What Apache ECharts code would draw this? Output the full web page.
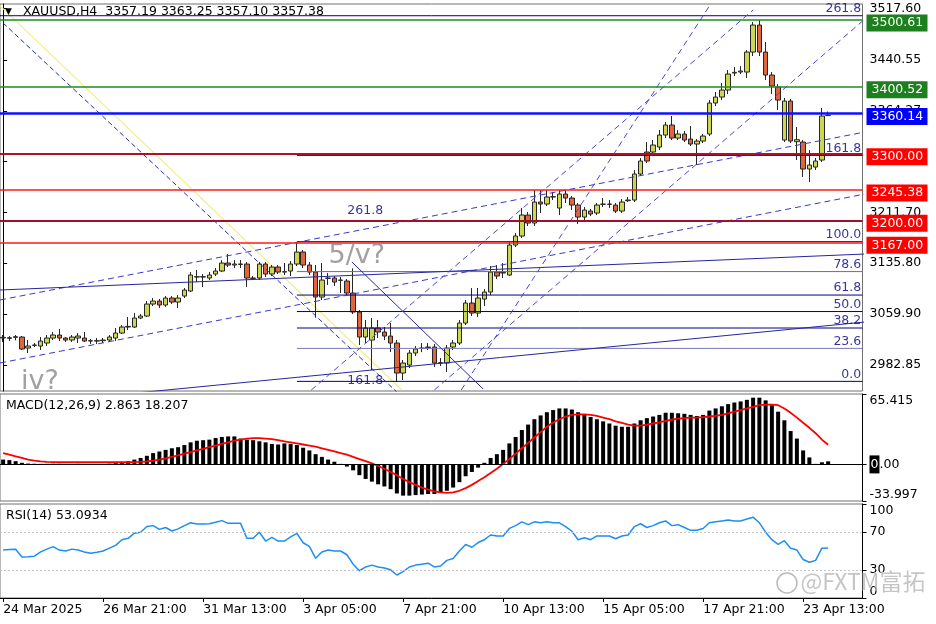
<!DOCTYPE html>
<html><head><meta charset="utf-8">
<script src="https://cdn.jsdelivr.net/npm/echarts@6/dist/echarts.min.js"></script>
<style>html,body{margin:0;padding:0;background:#fff}#c{width:936px;height:624px}</style>
</head><body><div id="c"></div>
<script>
// ---------- data ----------
const tickLabels = ['24 Mar 2025','26 Mar 21:00','31 Mar 13:00','3 Apr 05:00','7 Apr 21:00','10 Apr 13:00','15 Apr 05:00','17 Apr 21:00','23 Apr 13:00'];
const barsPerTick = 16;
const slotCount = 138;

const opens = [3023.5,3023,3024.5,3025,3008.5,3012.5,3011.5,3016,3023.5,3028,3023.5,3020.5,3023.5,3023.5,3019,3019.5,3019.5,3020.5,3023.5,3031,
3040,3040,3053.5,3056.5,3074.5,3079,3073,3083.5,3077.5,3086.5,3094,3115,3115.5,3113.5,3119.5,3124,3136,3133,3134.5,3134.5,
3113.5,3113.5,3134.5,3119.5,3130,3122.5,3124,3134.5,3152.5,3133,3122.5,3085,3113,3113.5,3110.5,3109,3091,3062.5,3025,3020.5,
3038.5,3032.5,3026.5,3016,2971,2983,3001,3008,3009,3010,2986,2986,3010,3016,3046,3076,3061,3082,3092.5,3122.5,
3121,3118,3163,3176.5,3208,3196,3227.5,3224.5,3235,3218.5,3239.5,3233.5,3223,3205,3214,3211,3224,3224.5,3223,3214,
3229.5,3230.5,3269.5,3302.5,3302.5,3310,3328,3343,3323.5,3329.5,3322,3314.5,3319,3329.5,3376,3385,3395.5,3421,3422.5,3422.5,
3452.5,3493,3452.5,3418,3400,3320.5,3379,3318,3317.5,3277,3280,3290.5,3357.19];
const closes = [3024.5,3024,3025.5,3007,3011.5,3013,3019,3023.5,3028,3023.5,3020.5,3025,3026.5,3019,3019.5,3019,3020.5,3025,3031,3040,
3041,3053.5,3056.5,3074.5,3079,3073,3083.5,3077.5,3083.5,3095.5,3118,3115.5,3115,3118,3124,3136,3133,3134.5,3134,3113.5,
3113,3134.5,3119.5,3130,3122.5,3123,3134.5,3152.5,3133,3122.5,3085,3110.5,3113.5,3107.5,3110,3091,3062.5,3025,3038.5,3038.5,
3032.5,3026.5,3016,2971,2986,3001,3007,3008.5,3010,2986,2986.5,3008.5,3016,3046,3076,3061,3083.5,3092.5,3122.5,3116.5,
3122,3163,3176.5,3208,3196,3227.5,3224.5,3235,3235.5,3239.5,3233.5,3223,3205,3215.5,3209.5,3223,3224.5,3224,3214,3227.5,
3230.5,3269.5,3289,3289,3313,3328,3343,3323.5,3329.5,3320.5,3314.5,3319,3326.5,3376,3385,3395.5,3419.5,3422,3424,3452.5,
3493,3452.5,3418,3401.5,3380.5,3379,3319,3321,3277,3283,3289,3356.5,3357.38];
const lows = [3017.5,3019,3020,3005.5,3001,3010,3005.5,3011.5,3020.5,3019,3017.5,3017.5,3016,3017.5,3014.5,3014.5,3016,3017.5,3019,3029.5,
3035.5,3038.5,3052,3055,3071.5,3068.5,3070,3074.5,3068.5,3083.5,3092.5,3107.5,3100,3110.5,3116.5,3122.5,3130,3128.5,3128.5,3100,
3110.5,3110.5,3115,3116.5,3119.5,3118,3116.5,3131.5,3128.5,3118,3054,3080.5,3103,3101.5,3091,3086.5,3059.5,3013,3016,2975.5,
3023.5,3020.5,3002.5,2957.5,2960.5,2978.5,2996.5,3002.5,3005.5,2980,2981.5,2972.5,3005.5,3013,3043,3056.5,3055,3071.5,3088,3112,
3113.5,3116.5,3160,3173.5,3191.5,3191.5,3211,3221.5,3230.5,3208,3226,3215.5,3194.5,3200.5,3206.5,3208,3220,3218.5,3211,3211,
3227.5,3227.5,3266.5,3286,3298,3305.5,3323.5,3320.5,3320.5,3317.5,3311.5,3283,3316,3326.5,3371.5,3380.5,3389.5,3416.5,3419.5,3413.5,
3446.5,3446.5,3410.5,3389.5,3365.5,3317.5,3316,3290.5,3265,3257.5,3275.5,3287.5,3357.10];
const highs = [3028,3026.5,3028,3026.5,3020.5,3016,3025,3028,3032.5,3037,3025,3028,3031,3032.5,3022,3023.5,3023.5,3028,3038.5,3043,
3055,3061,3059.5,3079,3083.5,3082,3086.5,3086.5,3088,3098.5,3122.5,3125.5,3119.5,3122.5,3128.5,3140.5,3149.5,3140.5,3140.5,3137.5,
3116.5,3137.5,3137.5,3133,3133,3136,3139,3167.5,3155.5,3137.5,3133,3136,3121,3116.5,3115,3112,3128,3065.5,3050.5,3053.5,
3050.5,3040,3046,3020.5,2990.5,3005.5,3011.5,3016,3016,3014.5,2993.5,3013,3020.5,3050.5,3080.5,3098.5,3098.5,3097,3131.5,3133,
3136,3167.5,3181,3218.5,3212.5,3245.5,3245.5,3245.5,3242.5,3245.5,3245.5,3236.5,3226,3220,3217,3226,3233.5,3230.5,3226,3232,
3235,3275.5,3293.5,3317.5,3320.5,3335.5,3347.5,3356.5,3335.5,3334,3341.5,3322,3329.5,3380.5,3392.5,3406,3425.5,3430,3431.5,3455.5,
3497.5,3500.5,3467.5,3422.5,3404.5,3383.5,3382,3340,3320.5,3305.5,3293.5,3368.5,3363.25];

const macdMain = [4.5,4,3,1.5,0.8,0.6,0.5,0.5,0.6,0.5,0.4,0.4,0.5,0.4,0.3,0.3,0.4,0.7,1.2,2,
3,4.5,6,8,10.5,12,13.5,15,16,18,20.5,22,22.5,23,24.5,25.5,26,26,24,23,
22.5,21.5,20.5,19,18.5,19.5,19,18,15.5,13,9.5,7,4.5,2.5,0.5,-2,-5.5,-10,-13.5,-16,
-18.5,-20.5,-23,-27,-29,-29,-28.5,-28,-27.5,-27.5,-26.5,-24.5,-21.5,-16.5,-11,-7,-3,1.5,6,9.5,
13.5,19.5,25.5,32,37,42,45.5,48.5,50.5,52,52,51,48.5,46.5,44,42,40,38,36,35,
35,38,41,43,44.5,46,48,48,47.5,47,46,45,46,50,52,54,56,57.5,58.5,60,
62,62,59.5,55,49,41,31,24,13,6.5,0.5,2,2.863];
const macdSignal = [10.5,9,7.5,6,4.5,3.5,2.8,2.3,2.1,2,2,2,2,2,2,2,2,2,2,2,
2,2.1,2.3,2.7,3.5,4.5,5.5,7,8.5,10,11.5,13,14.5,16,17.5,19,20.5,22,23,24,
24.5,24.5,24,23.5,22.5,21.5,20.5,19.5,18.5,17.5,16.5,15,13.5,12,10.5,9,7,5,3,1,
-1.5,-4,-7,-10,-13.5,-16.5,-19,-21.5,-23.5,-25,-26,-26.5,-26,-24.5,-22,-19,-15.5,-12,-8,-4,
0.5,5,10,15,20,25,30,35,39,42,44.5,46,46.5,46.5,46,45,43.5,42,40,38.5,
37,36,36,37,38,39,40.5,41.5,42.5,43,43.5,43.5,44,44.5,45,46,47.5,49,50.5,52,
53.5,55,55.5,55.5,55,52,48,43.5,38.7,34,29,23,18.207];
const rsiValues = [51,51.5,51.8,43.6,44,44.5,49,52,54.6,51,50,52,51,49,47.5,48.6,50,53,56,62,
63.5,69,70,76,77,73,75,71.3,73.5,77,80,78.7,78.7,79,80.5,82.3,79.4,79.4,79.4,63.5,
63.5,70,60.6,64.5,60.6,60.6,65,68.8,58.8,55,42.2,49,51,50,50,46,36,29,33,35,
33,32,30,24.5,28,33,35,36,37,33,34,40,42,50,57,54,59,62,67,66,
66,74,77,81,78,81,80,81,80,80,76,71,62,64,62,66,66,66,63,66,
67,76,79,75,77,80,82,77,78,75,72,72,74,80,81,82,83,82,82,84,
86,80,70,62,57,61,53,51,41,38,40,53,53.0934];

const priceTicks = [2982.85, 3059.90, 3135.80, 3211.70, 3287.98, 3364.27, 3440.55, 3517.60];
const macdTicks = [-33.997, 0, 65.415];
const rsiTicks = [0, 30, 70, 100];

const levelPrices = [3500.61, 3400.52, 3360.14, 3300.00, 3245.38, 3200.00, 3167.00];
const fibRatios = [0, 23.6, 38.2, 50, 61.8, 78.6, 100, 161.8, 261.8];
const fibLow = 2958.5, fibHigh = 3168.0, fibStartBar = 47;
const fibBLabels = [['261.8', 3205], ['161.8', 2950]];

// trend-line anchors: [barIndex, price]
const chanUpper = [[-0.5, 3080.55], [137.9, 3332.55]];
const chanLower = [[-0.5, 2986.05], [137.9, 3239.55]];
const flatLine = [[-0.5, 3095.55], [137.9, 3149.55]];
const lowLine = [[15.5, 2935.8], [137.9, 3047.55]];
const steepA = [[49.3, 2945.55], [120, 3515.55]];
const steepB = [[69, 2945.55], [137.9, 3502.05]];
const steepC = [[73.3, 2945.55], [113.1, 3523.05]];
const yellowLine = [[-0.8, 3524.55], [63.8, 2945.55]];
const descDash = [[0, 3496.05], [63.0, 2942.55]];
const descSolid = [[55.8, 3137.55], [76.8, 2947.05]];
const annotations = [['5/v?', 56.6, 3146.5], ['iv?', 5.9, 2958]];

// ---------- styles ----------
const FONT = 'DejaVu Sans';
const FS = 12.5;
const bull = '#cbd750', bear = '#e2643a';
const levelLineColors = ['#1e8c1e', '#1e8c1e', '#1010ff', '#b0102a', '#ff1a1a', '#a0102a', '#ff1a1a'];
const levelBoxColors  = ['#1e7f1e', '#1e7f1e', '#0000ff', '#ff0000', '#ff0000', '#ff0000', '#ff0000'];
const levelWidths = [1.5, 1.5, 2.5, 2, 1.5, 2, 1.5];
const fibColors = ['#000080','#7a7ab8','#000080','#000080','#000080','#6a6ab0','#000080','#000080','#000080'];

const slots = Array.from({length: slotCount}, (_, i) => i);
const fibPrice = r => fibLow + (fibHigh - fibLow) * r / 100;

function trend(data, color, type, width, z) {
  return {type: 'line', xAxisIndex: 3, yAxisIndex: 0, data: data, symbol: 'none', silent: true,
    clip: true, z: z || 3, animation: false,
    lineStyle: {color: color, width: width || 1, type: type}};
}

const series = [];
series.push({
  type: 'candlestick', xAxisIndex: 0, yAxisIndex: 0, barWidth: 5, z: 2,
  data: opens.map((o, i) => [o, closes[i], lows[i], highs[i]]),
  itemStyle: {color: bull, color0: bear, borderColor: '#262626', borderColor0: '#262626', borderWidth: 1},
  markLine: {
    symbol: 'none', silent: true, animation: false,
    data: levelPrices.map((p, k) => ({
      yAxis: p,
      lineStyle: {color: levelLineColors[k], width: levelWidths[k], type: 'solid'},
      label: {show: true, position: 'end', distance: 4, offset: [0, 3], formatter: p.toFixed(2), color: '#fff',
        backgroundColor: levelBoxColors[k], padding: [3, 5, 1, 5], width: 51,
        fontFamily: FONT, fontSize: FS}
    }))
  }
});
// fib A levels
fibRatios.forEach((r, k) => {
  const start = r === 261.8 ? -0.5 : fibStartBar;
  series.push(trend([[start, fibPrice(r)], [137.5, fibPrice(r)]], fibColors[k], 'solid', 1, 3));
});
series.push({
  type: 'scatter', xAxisIndex: 3, yAxisIndex: 0, symbolSize: 0, silent: true, z: 6, animation: false,
  data: fibRatios.map(r => [137.3, fibPrice(r) + 0.9, r.toFixed(1)]),
  label: {show: true, position: [0, 0], align: 'right', verticalAlign: 'bottom', color: '#000080',
    fontFamily: FONT, fontSize: FS, formatter: p => p.data[2]}
});
series.push({
  type: 'scatter', xAxisIndex: 3, yAxisIndex: 0, symbolSize: 0, silent: true, z: 6, animation: false,
  data: fibBLabels.map(d => [60.8, d[1], d[0]]),
  label: {show: true, position: [0, 0], align: 'right', verticalAlign: 'bottom', color: '#000080',
    fontFamily: FONT, fontSize: FS, formatter: p => p.data[2]}
});
// trend lines
series.push(trend(yellowLine, '#f3ee8a', 'solid', 1.2, 1));
series.push(trend(descDash, '#2a2aa0', [5, 3], 1, 3));
series.push(trend(descSolid, '#2a2aa0', 'solid', 1, 3));
series.push(trend(chanUpper, '#3a3ac8', [6, 4], 1, 3));
series.push(trend(chanLower, '#3a3ac8', [6, 4], 1, 3));
series.push(trend(flatLine, '#2525a0', 'solid', 1, 3));
series.push(trend(lowLine, '#2525a0', 'solid', 1, 3));
series.push(trend(steepA, '#4a4ad0', [6, 4], 1, 3));
series.push(trend(steepB, '#4a4ad0', [6, 4], 1, 3));
series.push(trend(steepC, '#4a4ad0', [6, 4], 1, 3));
// annotations
series.push({
  type: 'scatter', xAxisIndex: 3, yAxisIndex: 0, symbolSize: 0, silent: true, z: 7, animation: false,
  data: annotations.map(a => [a[1], a[2], a[0]]),
  label: {show: true, position: 'inside', color: '#8a8a8a', fontFamily: FONT, fontSize: 27,
    formatter: p => p.data[2]}
});
// MACD
series.push({
  type: 'bar', xAxisIndex: 1, yAxisIndex: 1, data: macdMain, barWidth: 4, animation: false,
  itemStyle: {color: '#000'},
  markLine: {symbol: 'none', silent: true, animation: false, label: {show: false},
    data: [{yAxis: 0}], lineStyle: {color: '#000', width: 1, type: 'solid'}}
});
series.push({
  type: 'line', xAxisIndex: 1, yAxisIndex: 1, data: macdSignal, symbol: 'none', animation: false,
  lineStyle: {color: '#ff0000', width: 1.8}, z: 4
});
// RSI
series.push({
  type: 'line', xAxisIndex: 2, yAxisIndex: 2, data: rsiValues, symbol: 'none', animation: false,
  lineStyle: {color: '#1e8ff0', width: 1.5},
  markLine: {symbol: 'none', silent: true, animation: false, label: {show: false},
    data: [{yAxis: 70}, {yAxis: 30}], lineStyle: {color: '#c4c4c4', width: 1, type: [2, 2]}}
});

const gridBase = {left: 0, width: 862.5, show: true, borderColor: '#707070', borderWidth: 1, backgroundColor: '#fff'};
const hiddenCat = gi => ({type: 'category', gridIndex: gi, data: slots, boundaryGap: true,
  axisLine: {show: false}, axisTick: {show: false}, axisLabel: {show: false}, splitLine: {show: false}});
const yBase = (gi, min, max, ticks, fmt, edgeAlign) => {
  const lbl = {customValues: ticks, formatter: fmt, color: '#000', fontFamily: FONT, fontSize: FS, margin: 7,
    rich: {b: {backgroundColor: '#000', color: '#fff', padding: [3, 1, 2, 1], fontFamily: FONT, fontSize: FS},
           n: {color: '#000', fontFamily: FONT, fontSize: FS}}};
  if (edgeAlign) { lbl.verticalAlignMaxLabel = 'top'; lbl.verticalAlignMinLabel = 'bottom'; }
  return {
    type: 'value', gridIndex: gi, position: 'right', min: min, max: max,
    splitLine: {show: false},
    axisLine: {show: true, lineStyle: {color: '#000', width: 1}},
    axisTick: {show: true, length: 4, customValues: ticks, lineStyle: {color: '#000'}},
    axisLabel: lbl
  };
};

const option = {
  animation: false,
  backgroundColor: '#fff',
  grid: [
    Object.assign({top: 4, height: 387}, gridBase),
    Object.assign({top: 394, height: 107}, gridBase),
    Object.assign({top: 504, height: 94}, gridBase)
  ],
  xAxis: [
    hiddenCat(0), hiddenCat(1),
    {type: 'category', gridIndex: 2, data: slots, boundaryGap: true, splitLine: {show: false},
      axisLine: {show: true, lineStyle: {color: '#000'}},
      axisTick: {show: true, alignWithLabel: true, length: 4, lineStyle: {color: '#000'},
        interval: idx => idx % barsPerTick === 0 && idx / barsPerTick < tickLabels.length},
      axisLabel: {interval: idx => idx % barsPerTick === 0 && idx / barsPerTick < tickLabels.length,
        formatter: (v, idx) => tickLabels[Math.round(Number(v) / barsPerTick)] || '',
        align: 'left', margin: 5, color: '#000', fontFamily: FONT, fontSize: FS}},
    {type: 'value', gridIndex: 0, min: -0.5, max: slotCount - 0.5, show: false}
  ],
  yAxis: [
    yBase(0, 2944.05, 3524.55, priceTicks, v => v.toFixed(2), false),
    yBase(1, -33.997, 65.415, macdTicks, v => v === 0 ? '{b|0}{n|.00}' : String(v), true),
    yBase(2, 0, 100, rsiTicks, v => String(v), true)
  ],
  series: series,
  graphic: [
    {type: 'text', left: 5, top: 7, z: 100, style: {text: '▼', fill: '#000', font: '9px "DejaVu Sans"'}},
    {type: 'text', left: 23, top: 5, z: 100, style: {text: 'XAUUSD,H4  3357.19 3363.25 3357.10 3357.38', fill: '#000', font: '12.5px "DejaVu Sans"'}},
    {type: 'text', left: 6, top: 399, z: 100, style: {text: 'MACD(12,26,9) 2.863 18.207', fill: '#000', font: '12.5px "DejaVu Sans"'}},
    {type: 'text', left: 6, top: 509, z: 100, style: {text: 'RSI(14) 53.0934', fill: '#000', font: '12.5px "DejaVu Sans"'}},
    {type: 'circle', z: 100, shape: {cx: 787, cy: 583, r: 10}, style: {fill: 'none', stroke: 'rgba(140,140,140,0.6)', lineWidth: 1.5}},
    {type: 'text', left: 800, top: 569, z: 100, style: {text: '@FXTM富拓', fill: 'rgba(150,150,150,0.55)', stroke: 'rgba(255,255,255,0.6)', lineWidth: 1, font: '23px "Noto Sans CJK SC"'}}
  ]
};

const chart = echarts.init(document.getElementById('c'));
chart.setOption(option);
</script>
</body></html>
